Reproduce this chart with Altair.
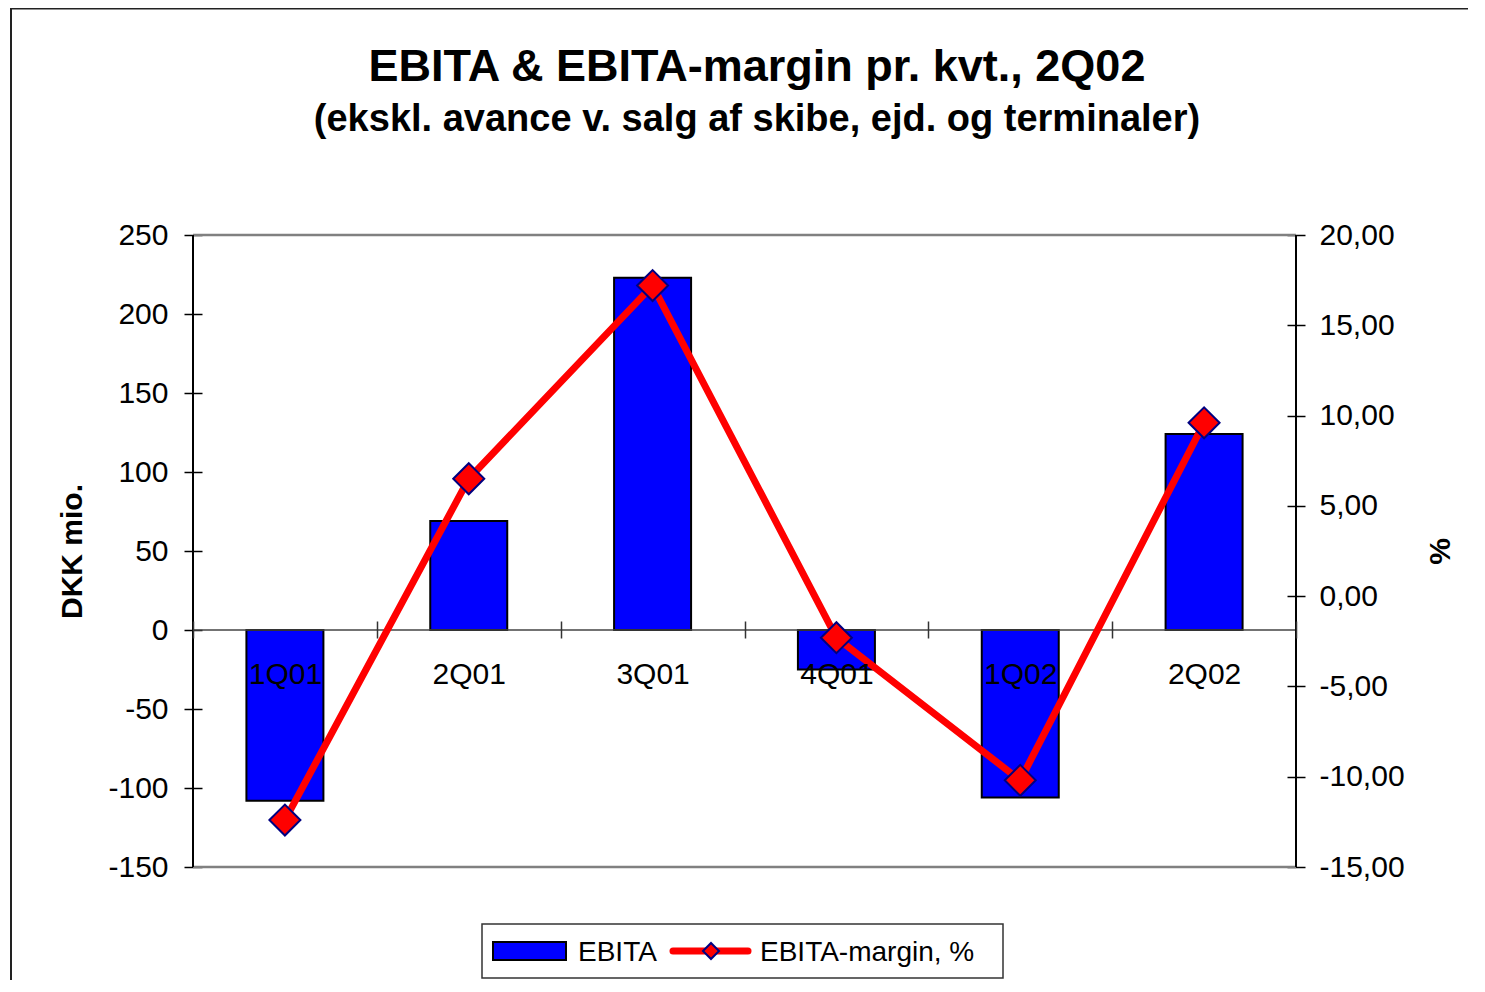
import altair as alt
import pandas as pd

# ---- data ----
quarters = ["1Q01", "2Q01", "3Q01", "4Q01", "1Q02", "2Q02"]
ebita = [-108, 69, 223, -25, -106, 124]          # DKK mio.
margin = [-12.4, 6.5, 17.2, -2.3, -10.2, 9.6]     # %
left_ticks = [-150, -100, -50, 0, 50, 100, 150, 200, 250]
right_ticks = [-15, -10, -5, 0, 5, 10, 15, 20]
legend_labels = ["EBITA", "EBITA-margin, %"]
title_text = "EBITA & EBITA-margin pr. kvt., 2Q02"
subtitle_text = "(ekskl. avance v. salg af skibe, ejd. og terminaler)"
left_title = "DKK mio."
right_title = "%"

FONT = "Liberation Sans"
W, H = 1103, 632

df = pd.DataFrame({"quarter": quarters, "ebita": ebita, "margin": margin})
one = pd.DataFrame({"k": [0]})

x_enc = alt.X(
    "quarter:N",
    sort=quarters,
    scale=alt.Scale(paddingInner=0, paddingOuter=0),
    axis=alt.Axis(
        title=None, labelAngle=0, domain=False, tickBand="extent",
        tickSize=17, tickColor="#333333", tickWidth=1.5, offset=-246,
        labelPadding=21, labelFont=FONT, labelFontSize=30, labelColor="black",
        zindex=1,
    ),
)

y_left = alt.Y(
    "ebita:Q",
    scale=alt.Scale(domain=[-150, 250], nice=False, zero=False),
    axis=alt.Axis(
        orient="left", values=left_ticks, labelExpr="'' + datum.value",
        title=left_title, titleFont=FONT, titleFontSize=30, titleFontWeight="bold",
        titleColor="black", titlePadding=20,
        offset=-9, domain=False, grid=False, tickSize=18, tickColor="black",
        tickWidth=1.5, labelFont=FONT, labelFontSize=30, labelColor="black",
        labelPadding=16,
    ),
)

bars = alt.Chart(df).mark_bar(
    color="#0000FF", stroke="black", strokeWidth=2, size=77
).encode(x=x_enc, y=y_left)

zero_rule = alt.Chart(one).mark_rule(color="#444444", strokeWidth=1.5).encode(
    y=alt.datum(0)
)

left_layer = alt.layer(bars, zero_rule)

y_right = alt.Y(
    "margin:Q",
    scale=alt.Scale(domain=[-15, 20], nice=False, zero=False),
    axis=alt.Axis(
        orient="right", values=right_ticks,
        labelExpr="replace(replace(format(datum.value, '.2f'), '.', ','), '\u2212', '-')",
        title=right_title, titleFont=FONT, titleFontSize=30, titleFontWeight="bold",
        titleColor="black", titleAngle=270, titleBaseline="top", titlePadding=21,
        offset=-9, domain=False, grid=False, tickSize=18, tickColor="black",
        tickWidth=1.5, labelFont=FONT, labelFontSize=30, labelColor="black",
        labelPadding=14,
    ),
)

line = alt.Chart(df).mark_line(
    color="#FF0000", strokeWidth=7, strokeJoin="round"
).encode(x=alt.X("quarter:N", sort=quarters), y=y_right)

points = alt.Chart(df).mark_point(
    shape="diamond", filled=True, fill="#FF0000", stroke="#000080",
    strokeWidth=2, size=961, opacity=1,
).encode(x=alt.X("quarter:N", sort=quarters), y=alt.Y("margin:Q"))

right_layer = alt.layer(line, points)

# ---- decorations: plot border, outer frame, titles, legend ----
def vrule(xpos):
    return alt.Chart(one).mark_rule(color="black", strokeWidth=2).encode(
        x=alt.value(xpos), y=alt.value(0), y2=alt.value(H))

def hrule(ypos):
    return alt.Chart(one).mark_rule(color="#808080", strokeWidth=2.5).encode(
        y=alt.value(ypos), x=alt.value(0), x2=alt.value(W))

borders = alt.layer(hrule(0), hrule(H), vrule(0), vrule(W))

frame = alt.Chart(one).mark_rect(
    fill=None, fillOpacity=0, stroke="#222222", strokeWidth=2
).encode(
    x=alt.value(-182), x2=alt.value(1300), y=alt.value(-226.5), y2=alt.value(800)
)

title_mark = alt.Chart(one).mark_text(
    font=FONT, fontSize=45, fontWeight="bold", align="center",
    baseline="alphabetic", color="black"
).encode(x=alt.value(564), y=alt.value(-154), text=alt.value(title_text))

subtitle_mark = alt.Chart(one).mark_text(
    font=FONT, fontSize=38, fontWeight="bold", align="center",
    baseline="alphabetic", color="black"
).encode(x=alt.value(564), y=alt.value(-104), text=alt.value(subtitle_text))

LY = 716
leg_box = alt.Chart(one).mark_rect(
    fill="white", stroke="#333333", strokeWidth=1.5
).encode(x=alt.value(289), x2=alt.value(810), y=alt.value(LY - 27), y2=alt.value(LY + 27))

leg_swatch = alt.Chart(one).mark_rect(
    fill="#0000FF", stroke="black", strokeWidth=2
).encode(x=alt.value(300), x2=alt.value(373), y=alt.value(LY - 9), y2=alt.value(LY + 9))

leg_line = alt.Chart(one).mark_rule(
    color="#FF0000", strokeWidth=7, strokeCap="round"
).encode(x=alt.value(480), x2=alt.value(555), y=alt.value(LY))

leg_pt = alt.Chart(one).mark_point(
    shape="diamond", filled=True, fill="#FF0000", stroke="#000080",
    strokeWidth=2, size=256, opacity=1,
).encode(x=alt.value(518), y=alt.value(LY))

leg_t1 = alt.Chart(one).mark_text(
    font=FONT, fontSize=28, align="left", baseline="alphabetic", color="black"
).encode(x=alt.value(385), y=alt.value(LY + 10), text=alt.value(legend_labels[0]))

leg_t2 = alt.Chart(one).mark_text(
    font=FONT, fontSize=28, align="left", baseline="alphabetic", color="black"
).encode(x=alt.value(567), y=alt.value(LY + 10), text=alt.value(legend_labels[1]))

chart = alt.layer(
    frame, title_mark, subtitle_mark, left_layer, right_layer, borders,
    leg_box, leg_swatch, leg_line, leg_pt, leg_t1, leg_t2,
).resolve_scale(y="independent").properties(
    width=W, height=H,
    autosize=alt.AutoSizeParams(type="none"),
    padding={"left": 185, "top": 227, "right": 172, "bottom": 113},
).configure_view(stroke=None).configure(background="white")

chart.save("out.html", embed_options={"renderer": "svg", "actions": False})
